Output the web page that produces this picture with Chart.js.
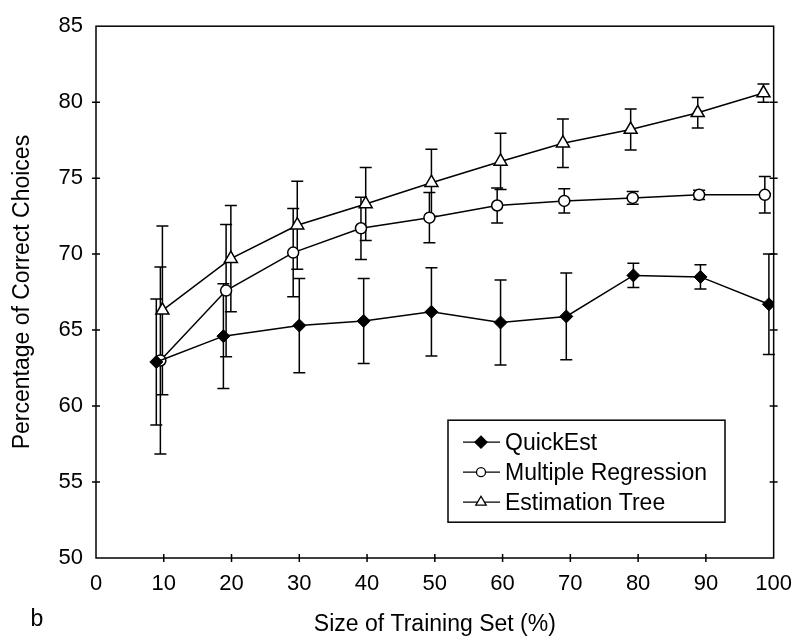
<!DOCTYPE html>
<html>
<head>
<meta charset="utf-8">
<script src="https://cdn.jsdelivr.net/npm/chart.js@4.4.0/dist/chart.umd.min.js"></script>
<style>
  html, body { margin: 0; padding: 0; background: #fff; }
</style>
</head>
<body>
<canvas id="grafico_escolhas" width="805" height="642"></canvas>
<script>
// size of training set (%), one list per series
var xQuick = [8.9, 18.8, 30.0, 39.5, 49.5, 59.7, 69.4, 79.3, 89.2, 99.3];
var xRegr  = [9.5, 19.2, 29.1, 39.1, 49.2, 59.2, 69.1, 79.2, 89.0, 98.7];
var xTree  = [9.8, 19.9, 29.7, 39.8, 49.5, 59.7, 68.9, 78.9, 88.8, 98.5];

// percentage of correct choices
var quickEst   = [62.9, 64.6, 65.3, 65.6, 66.2, 65.5, 65.9, 68.6, 68.5, 66.7];
var multRegr   = [63.0, 67.6, 70.1, 71.7, 72.4, 73.2, 73.5, 73.7, 73.9, 73.9];
var estTree    = [66.3, 69.7, 71.9, 73.3, 74.7, 76.1, 77.3, 78.2, 79.3, 80.6];

// half length of the error bars
var errQuick = [4.15, 3.45, 3.1, 2.8, 2.9, 2.8, 2.85, 0.8, 0.8, 3.3];
var errRegr  = [6.15, 4.35, 2.9, 2.05, 1.65, 1.15, 0.8, 0.42, 0.3, 1.2];
var errTree  = [5.55, 3.5, 2.9, 2.4, 2.2, 1.85, 1.6, 1.35, 1.0, 0.6];

var xTicks = [0, 10, 20, 30, 40, 50, 60, 70, 80, 90, 100];
var yTicks = [50, 55, 60, 65, 70, 75, 80, 85];

function pts(xs, ys) {
  return xs.map(function (x, i) { return { x: x, y: ys[i] }; });
}

Chart.defaults.font.family = "'Liberation Sans', Arial, Helvetica, sans-serif";
Chart.defaults.color = "#000";

// box around the plot with the small cross ticks
var moldura = {
  id: "moldura",
  beforeDatasetsDraw: function (chart) {
    var ctx = chart.ctx, a = chart.chartArea;
    var sx = chart.scales.x, sy = chart.scales.y;
    ctx.save();
    ctx.strokeStyle = "#000";
    ctx.lineWidth = 1.5;
    ctx.strokeRect(a.left, a.top, a.right - a.left, a.bottom - a.top);
    ctx.beginPath();
    yTicks.slice(1, -1).forEach(function (v) {
      var p = sy.getPixelForValue(v);
      ctx.moveTo(a.left - 4, p); ctx.lineTo(a.left + 4, p);
      ctx.moveTo(a.right - 4, p); ctx.lineTo(a.right + 4, p);
    });
    xTicks.slice(1, -1).forEach(function (v) {
      var p = sx.getPixelForValue(v);
      ctx.moveTo(p, a.bottom - 4); ctx.lineTo(p, a.bottom + 4);
    });
    ctx.stroke();
    ctx.restore();
  }
};

// error bars under the markers
var barrasErro = {
  id: "barrasErro",
  beforeDatasetsDraw: function (chart) {
    var ctx = chart.ctx, sx = chart.scales.x, sy = chart.scales.y;
    ctx.save();
    ctx.strokeStyle = "#000";
    ctx.lineWidth = 1.5;
    chart.data.datasets.forEach(function (ds) {
      ds.data.forEach(function (p, i) {
        var e = ds.erros[i];
        var x = sx.getPixelForValue(p.x);
        var yHi = sy.getPixelForValue(p.y + e);
        var yLo = sy.getPixelForValue(p.y - e);
        ctx.beginPath();
        ctx.moveTo(x, yHi); ctx.lineTo(x, yLo);
        ctx.moveTo(x - 6, yHi); ctx.lineTo(x + 6, yHi);
        ctx.moveTo(x - 6, yLo); ctx.lineTo(x + 6, yLo);
        ctx.stroke();
      });
    });
    ctx.restore();
  }
};

// legend box inside the plot, and the panel letter
var legendaCaixa = {
  id: "legendaCaixa",
  afterDraw: function (chart) {
    var ctx = chart.ctx, a = chart.chartArea;
    var bx = a.left + 352, by = a.top + 394, bw = 277, bh = 102;
    ctx.save();
    ctx.fillStyle = "#fff";
    ctx.fillRect(bx, by, bw, bh);
    ctx.strokeStyle = "#000";
    ctx.lineWidth = 1.5;
    ctx.strokeRect(bx, by, bw, bh);
    ctx.font = "23px 'Liberation Sans', Arial, sans-serif";
    ctx.textBaseline = "middle";
    chart.data.datasets.forEach(function (ds, i) {
      var y = by + 22 + i * 30;
      ctx.strokeStyle = "#000";
      ctx.lineWidth = 1.3;
      ctx.beginPath();
      ctx.moveTo(bx + 15, y); ctx.lineTo(bx + 52, y);
      ctx.stroke();
      ctx.fillStyle = ds.pointBackgroundColor;
      Chart.helpers.drawPoint(ctx, {
        pointStyle: ds.pointStyle, radius: ds.legendRadius, rotation: 0, borderWidth: 1.3
      }, bx + 33, y);
      ctx.fillStyle = "#000";
      ctx.textAlign = "left";
      ctx.fillText(ds.label, bx + 57, y + 1);
    });
    ctx.textAlign = "center";
    ctx.fillText("b", 37, 620);
    ctx.restore();
  }
};

var ctx = document.getElementById("grafico_escolhas").getContext("2d");
var myChart = new Chart(ctx, {
  type: "line",
  data: {
    datasets: [
      {
        label: "QuickEst",
        data: pts(xQuick, quickEst),
        erros: errQuick,
        borderColor: "#000",
        borderWidth: 1.5,
        pointStyle: "rectRot",
        pointRadius: 6.5,
        legendRadius: 6,
        pointBackgroundColor: "#000",
        pointBorderColor: "#000",
        pointBorderWidth: 1,
        tension: 0,
        fill: false
      },
      {
        label: "Multiple Regression",
        data: pts(xRegr, multRegr),
        erros: errRegr,
        borderColor: "#000",
        borderWidth: 1.5,
        pointStyle: "circle",
        pointRadius: 5.5,
        legendRadius: 4.5,
        pointBackgroundColor: "#fff",
        pointBorderColor: "#000",
        pointBorderWidth: 1.5,
        tension: 0,
        fill: false
      },
      {
        label: "Estimation Tree",
        data: pts(xTree, estTree),
        erros: errTree,
        borderColor: "#000",
        borderWidth: 1.5,
        pointStyle: "triangle",
        pointRadius: 7.5,
        legendRadius: 6,
        pointBackgroundColor: "#fff",
        pointBorderColor: "#000",
        pointBorderWidth: 1.5,
        tension: 0,
        fill: false
      }
    ]
  },
  options: {
    responsive: false,
    animation: false,
    devicePixelRatio: 1,
    layout: { padding: { top: 17, right: 24, left: 0, bottom: 0 } },
    plugins: {
      legend: { display: false },
      tooltip: { enabled: false }
    },
    scales: {
      x: {
        type: "linear",
        min: 0,
        max: 100,
        afterBuildTicks: function (s) { s.ticks = xTicks.map(function (v) { return { value: v }; }); },
        afterFit: function (s) { s.height = 84; },
        ticks: { font: { size: 22 }, color: "#000", padding: 13, maxRotation: 0 },
        grid: { display: false, drawTicks: false },
        border: { display: false },
        title: {
          display: true,
          text: "Size of Training Set (%)",
          font: { size: 23 },
          color: "#000",
          padding: { top: 0, bottom: 4 }
        }
      },
      y: {
        min: 50,
        max: 85,
        afterBuildTicks: function (s) { s.ticks = yTicks.map(function (v) { return { value: v }; }); },
        afterFit: function (s) { s.width = 96; },
        ticks: { font: { size: 22 }, color: "#000", padding: 13 },
        grid: { display: false, drawTicks: false },
        border: { display: false },
        title: {
          display: true,
          text: "Percentage of Correct Choices",
          font: { size: 23 },
          color: "#000",
          padding: { top: 9, bottom: 0 }
        }
      }
    }
  },
  plugins: [moldura, barrasErro, legendaCaixa]
});
</script>
</body>
</html>
